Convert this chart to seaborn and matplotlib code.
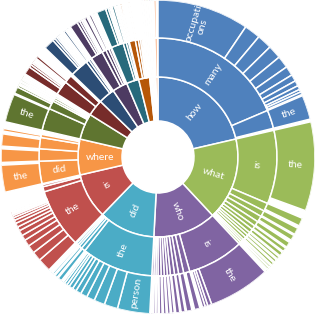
import numpy as np
import matplotlib
matplotlib.use('Agg')
import matplotlib.pyplot as plt
import seaborn as sb

# first word of the question, clockwise from 12 o'clock
top_labels = ['how', 'what', 'who', 'did', 'is', 'where',
              '', '', '', '', '', '', '', '', '', '', '', '']
top_values = [77, 60, 46, 41, 33, 26, 19, 12, 12, 11, 9, 8,
              0.9, 0.9, 0.9, 0.9, 0.9, 1.5]

# second word, grouped by first word
mid_values = [
    [67, 9],
    [36, 4, 3, 3, 2.5, 2, 2, 1.5, 1.5, 1.5, 1, 1, 1],
    [27.5, 3, 2.5, 2, 2, 1.5, 1.5, 1.5, 1.5, 1, 1, 1],
    [35, 2, 1.5, 1, 1, 0.5],
    [29, 2.5, 1],
    [11, 6, 5.5, 1.5],
    [11, 4, 1, 1, 0.8, 0.6],
    [7, 4, 0.6],
    [9, 1.5, 1],
    [6, 2, 1.5, 1],
    [6, 1.5, 1],
    [3, 1.5, 1, 0.8],
    [0.6], [0.6], [0.6], [0.6], [0.6], [1.2],
]
mid_labels = {(0, 0): 'many', (1, 0): 'is', (2, 0): 'is',
              (3, 0): 'the', (4, 0): 'the', (5, 0): 'did'}

# third word, grouped by first and second word
outer_values = [
    [[34, 6, 5.5, 5, 4.5, 3.5, 2.5, 2, 1.5, 1, 1], [9]],
    [[33], [3], [2.5], [2], [2], [1.5], [1.5], [1], [1], [1], [0.7], [0.7], [0.5]],
    [[23, 1.5, 1, 1], [2], [2], [1.5], [1.5], [1], [1], [1], [1], [0.7], [0.7], [0.5]],
    [[12, 5, 4, 3, 2.5, 2, 1.5, 1.5, 1, 1, 0.7, 0.5], [1.5], [1], [0.7], [0.5], [0.3]],
    [[5, 3.5, 3, 2.5, 2, 2, 1.5, 1.5, 1.2, 1, 0.8, 0.6, 0.5, 0.4], [], []],
    [[10], [5], [4.5], [1]],
    [[10.5], [2.5, 0.8, 0.5], [0.6], [0.6], [0.5], [0.4]],
    [[3, 1, 0.8, 0.6, 0.5, 0.5, 0.4, 0.3], [1], []],
    [[4, 1, 0.8, 0.6, 0.5, 0.4], [0.8], [0.5]],
    [[3, 1, 0.8, 0.6, 0.4], [1], [0.8], [0.5]],
    [[3.5, 1, 0.6], [0.8], [0.5]],
    [[0.6], [0.5], [], []],
    [[0.4]], [[0.4]], [[0.4]], [[0.4]], [[0.4]], [[0.8]],
]
outer_labels = {(0, 0, 0): 'occupati\nons', (0, 1, 0): 'the', (1, 0, 0): 'the',
                (2, 0, 0): 'the', (3, 0, 0): 'person', (5, 0, 0): 'the',
                (6, 0, 0): 'the'}

colors = ['#4F81BD', '#9BBB59', '#8064A2', '#4BACC6', '#C0504D', '#F79646',
          '#5F7530', '#772C2A', '#2C4D75', '#4D3B62', '#276A7C', '#B65708',
          '#729ACA', '#CD7371', '#AFC97A', '#9983B5', '#6FBDD1', '#F9AA7A']

sb.set_theme(style='white')
plt.rcParams['font.family'] = ['Lato', 'DejaVu Sans']

rings = [(36, 80), (80, 119), (119, 157)]
total = sum(top_values)

fig = plt.figure(figsize=(3.16, 3.14), dpi=100)
ax = fig.add_axes([0, 0, 1, 1], projection='polar')
ax.set_theta_zero_location('N')
ax.set_theta_direction(-1)


def wedge(start, value, ring, color, label=''):
    th0 = 2 * np.pi * start / total
    w = 2 * np.pi * value / total
    r0, r1 = rings[ring]
    ax.bar(th0 + w / 2, r1 - r0, width=w, bottom=r0, color=color,
           edgecolor='white', linewidth=1.1)
    if label:
        a = 90 - np.degrees(th0 + w / 2)
        rot = ((a + 90) % 180) - 90
        ax.text(th0 + w / 2, (r0 + r1) / 2, label, rotation=rot,
                rotation_mode='anchor', ha='center', va='center',
                color='white', fontsize=7.5, linespacing=1.0)


pos = 0
for i, v in enumerate(top_values):
    wedge(pos, v, 0, colors[i], top_labels[i])
    mpos = pos
    for j, mv in enumerate(mid_values[i]):
        wedge(mpos, mv, 1, colors[i], mid_labels.get((i, j), ''))
        opos = mpos
        for k, ov in enumerate(outer_values[i][j]):
            wedge(opos, ov, 2, colors[i], outer_labels.get((i, j, k), ''))
            opos += ov
        mpos += mv
    pos += v

ax.set_ylim(0, 157)
ax.set_axis_off()
plt.savefig('out.png', dpi=100)
